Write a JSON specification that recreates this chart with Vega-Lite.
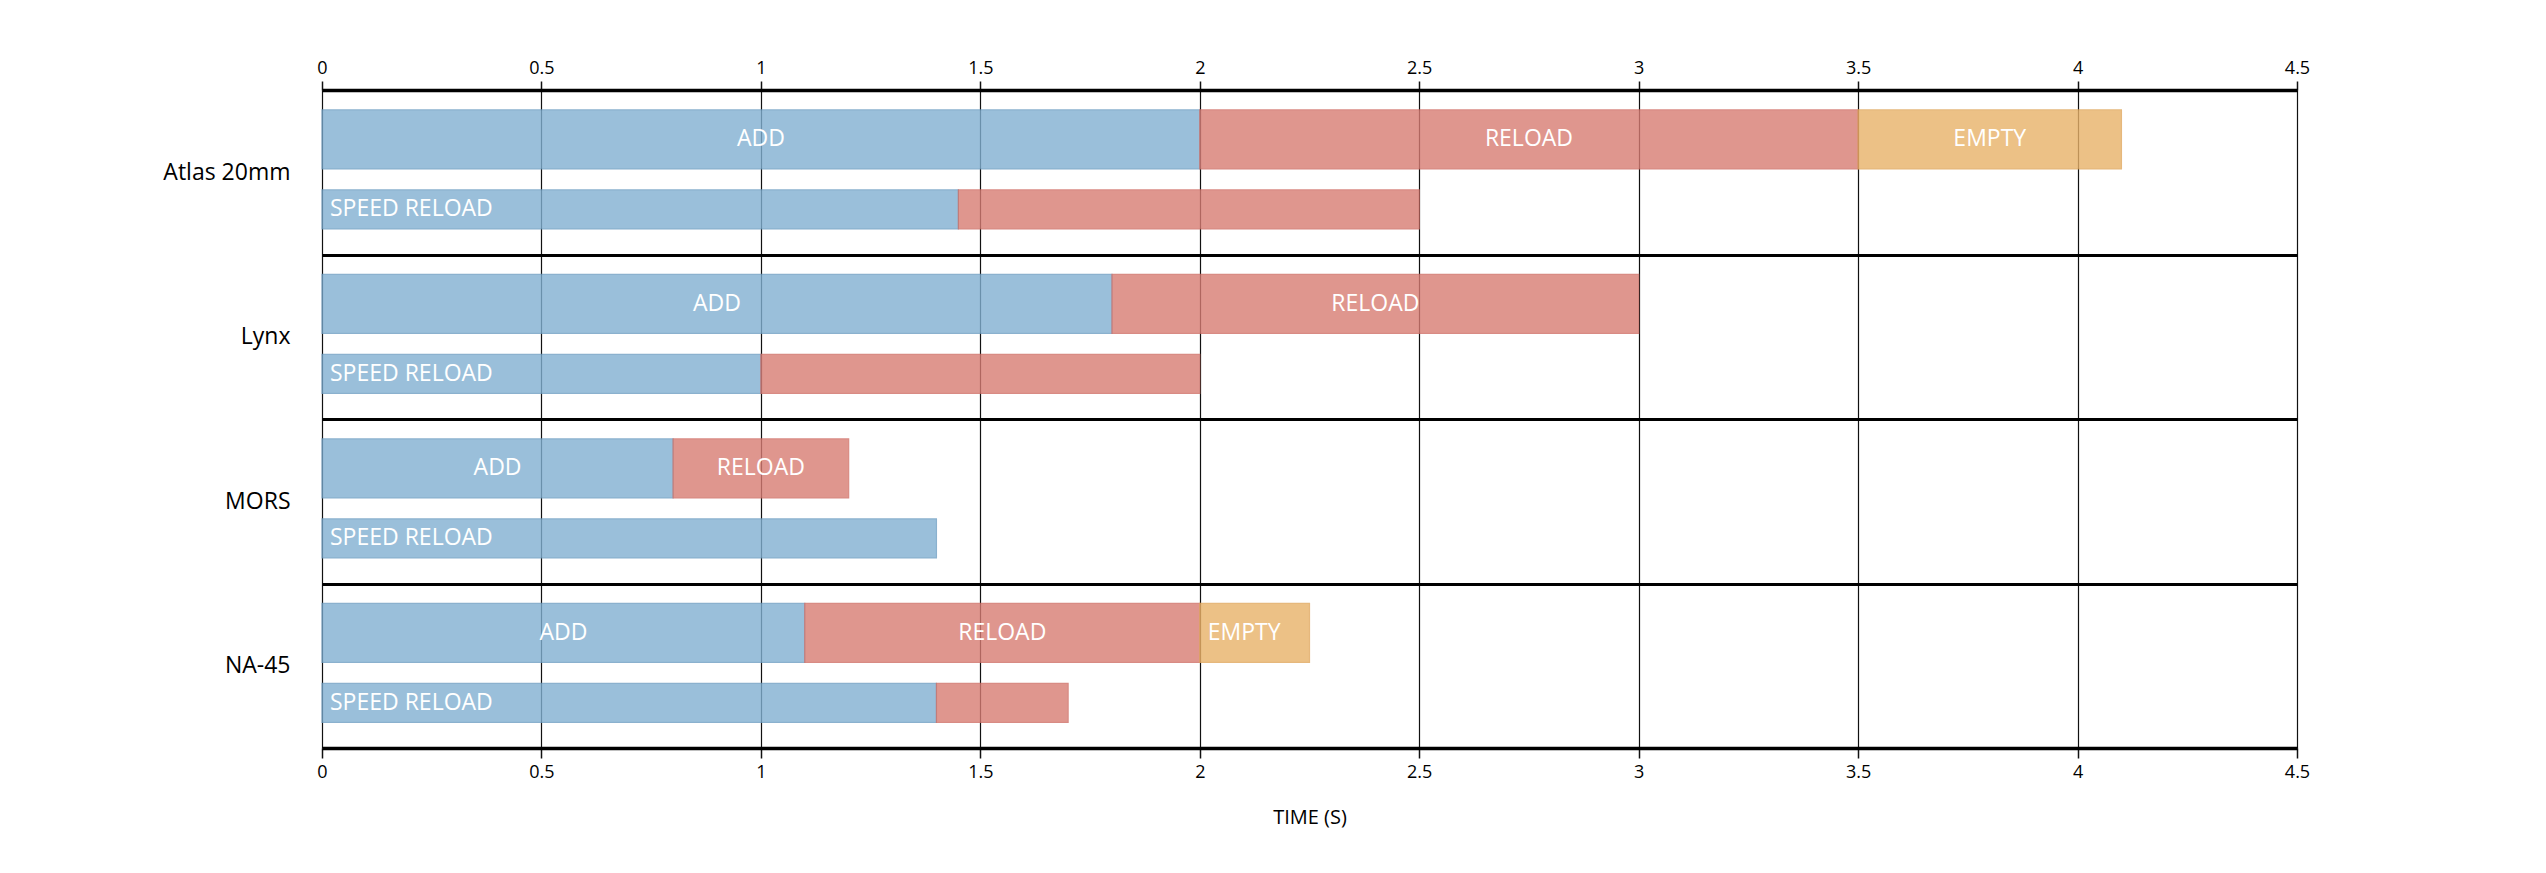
{
  "$schema": "https://vega.github.io/schema/vega-lite/v6.json",
  "width": 1975,
  "height": 658,
  "autosize": {"type": "none"},
  "padding": {"left": 322, "top": 90, "right": 249, "bottom": 125},
  "background": "white",
  "config": {
    "view": {"stroke": null},
    "font": "Open Sans",
    "axis": {"labelFont": "Open Sans", "titleFont": "Open Sans"}
  },
  "data": {
    "values": [
      {"gun": "Atlas 20mm", "row": "main", "phase": "add", "start": 0, "end": 2.0, "label": "ADD"},
      {"gun": "Atlas 20mm", "row": "main", "phase": "reload", "start": 2.0, "end": 3.5, "label": "RELOAD"},
      {"gun": "Atlas 20mm", "row": "main", "phase": "empty", "start": 3.5, "end": 4.1, "label": "EMPTY"},
      {"gun": "Atlas 20mm", "row": "speed", "phase": "add", "start": 0, "end": 1.45, "label": "SPEED RELOAD"},
      {"gun": "Atlas 20mm", "row": "speed", "phase": "reload", "start": 1.45, "end": 2.5, "label": ""},
      {"gun": "Lynx", "row": "main", "phase": "add", "start": 0, "end": 1.8, "label": "ADD"},
      {"gun": "Lynx", "row": "main", "phase": "reload", "start": 1.8, "end": 3.0, "label": "RELOAD"},
      {"gun": "Lynx", "row": "speed", "phase": "add", "start": 0, "end": 1.0, "label": "SPEED RELOAD"},
      {"gun": "Lynx", "row": "speed", "phase": "reload", "start": 1.0, "end": 2.0, "label": ""},
      {"gun": "MORS", "row": "main", "phase": "add", "start": 0, "end": 0.8, "label": "ADD"},
      {"gun": "MORS", "row": "main", "phase": "reload", "start": 0.8, "end": 1.2, "label": "RELOAD"},
      {"gun": "MORS", "row": "speed", "phase": "add", "start": 0, "end": 1.4, "label": "SPEED RELOAD"},
      {"gun": "NA-45", "row": "main", "phase": "add", "start": 0, "end": 1.1, "label": "ADD"},
      {"gun": "NA-45", "row": "main", "phase": "reload", "start": 1.1, "end": 2.0, "label": "RELOAD"},
      {"gun": "NA-45", "row": "main", "phase": "empty", "start": 2.0, "end": 2.25, "label": "EMPTY"},
      {"gun": "NA-45", "row": "speed", "phase": "add", "start": 0, "end": 1.4, "label": "SPEED RELOAD"},
      {"gun": "NA-45", "row": "speed", "phase": "reload", "start": 1.4, "end": 1.7, "label": ""}
    ]
  },
  "encoding": {
    "y": {
      "field": "gun",
      "type": "nominal",
      "sort": ["Atlas 20mm", "Lynx", "MORS", "NA-45"],
      "scale": {"paddingInner": 0, "paddingOuter": 0},
      "axis": {
        "title": null,
        "domain": false,
        "ticks": false,
        "tickBand": "extent",
        "grid": true,
        "gridColor": "black",
        "gridWidth": 3,
        "labelFontSize": 23,
        "labelColor": "black",
        "labelPadding": 32
      }
    },
    "yOffset": {
      "field": "row",
      "type": "nominal",
      "scale": {"domain": ["main", "speed"], "paddingInner": 0, "paddingOuter": 0.175, "align": 0.59}
    }
  },
  "layer": [
    {
      "transform": [{"filter": "datum.row == 'main'"}],
      "mark": {"type": "bar", "height": 59, "opacity": 0.8, "strokeWidth": 1.2},
      "encoding": {
        "x": {
          "field": "start",
          "type": "quantitative",
          "scale": {"domain": [0, 4.5], "nice": false},
          "axis": {
            "orient": "bottom",
            "title": "TIME (S)",
            "titleFontSize": 20,
            "titleFontWeight": "normal",
            "titleColor": "black",
            "titlePadding": 26,
            "values": [0, 0.5, 1, 1.5, 2, 2.5, 3, 3.5, 4, 4.5],
            "format": "~g",
            "labelFlush": false,
            "labelFontSize": 18,
            "labelColor": "black",
            "labelPadding": 5,
            "domainColor": "black",
            "domainWidth": 3.5,
            "tickColor": "#111",
            "tickWidth": 1.5,
            "tickSize": 10,
            "grid": true,
            "gridColor": "#111",
            "gridWidth": 1.2
          }
        },
        "x2": {"field": "end"},
        "color": {
          "field": "phase",
          "type": "nominal",
          "scale": {"domain": ["add", "reload", "empty"], "range": ["#81b0d2", "#d87c73", "#e8b269"]},
          "legend": null
        },
        "stroke": {
          "field": "phase",
          "type": "nominal",
          "scale": {"domain": ["add", "reload", "empty"], "range": ["#6f9ec2", "#cf6f66", "#e0a75c"]},
          "legend": null
        }
      }
    },
    {
      "transform": [{"filter": "datum.row == 'speed'"}],
      "mark": {"type": "bar", "height": 39, "opacity": 0.8, "strokeWidth": 1.2},
      "encoding": {
        "x": {
          "field": "start",
          "type": "quantitative",
          "scale": {"domain": [0, 4.5], "nice": false},
          "axis": {
            "orient": "top",
            "title": null,
            "values": [0, 0.5, 1, 1.5, 2, 2.5, 3, 3.5, 4, 4.5],
            "format": "~g",
            "labelFlush": false,
            "labelFontSize": 18,
            "labelColor": "black",
            "labelPadding": 4,
            "domainColor": "black",
            "domainWidth": 3.5,
            "tickColor": "#111",
            "tickWidth": 1.5,
            "tickSize": 9,
            "grid": false
          }
        },
        "x2": {"field": "end"},
        "color": {"field": "phase", "type": "nominal", "legend": null},
        "stroke": {"field": "phase", "type": "nominal", "legend": null}
      }
    },
    {
      "transform": [
        {"filter": "datum.row == 'main' && datum.end - datum.start > 0.3"},
        {"fold": ["start", "end"], "as": ["edge", "pos"]}
      ],
      "mark": {"type": "text", "align": "center", "baseline": "middle", "fontSize": 23, "color": "white"},
      "encoding": {
        "x": {"aggregate": "mean", "field": "pos", "type": "quantitative", "axis": null},
        "text": {"field": "label", "type": "nominal"},
        "detail": {"field": "phase", "type": "nominal"}
      }
    },
    {
      "transform": [
        {"filter": "datum.label != '' && (datum.row == 'speed' || datum.end - datum.start <= 0.3)"}
      ],
      "mark": {"type": "text", "align": "left", "baseline": "middle", "dx": 8, "fontSize": 23, "color": "white"},
      "encoding": {
        "x": {"field": "start", "type": "quantitative", "axis": null},
        "text": {"field": "label", "type": "nominal"}
      }
    }
  ],
  "resolve": {"axis": {"x": "independent"}}
}
